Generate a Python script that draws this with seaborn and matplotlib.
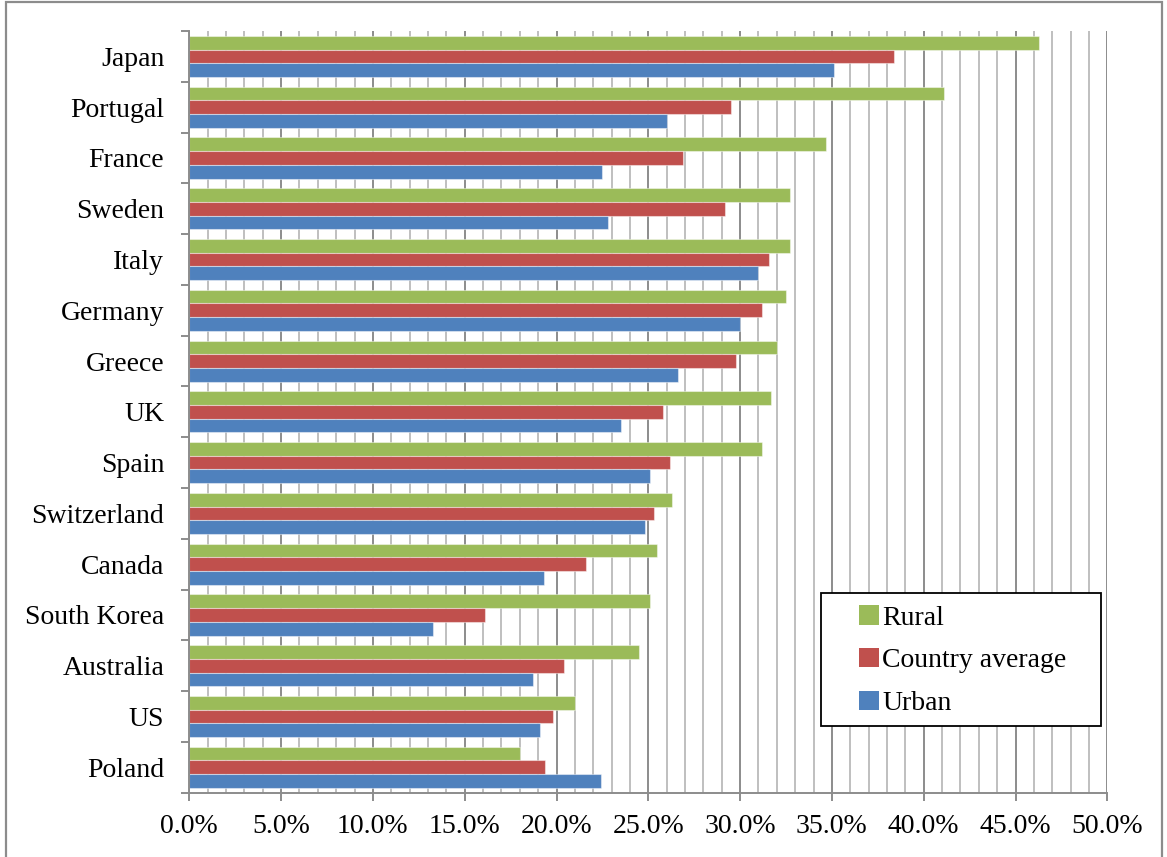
import matplotlib
matplotlib.use("Agg")
import matplotlib.pyplot as plt
from matplotlib.patches import Rectangle, Patch
from matplotlib.ticker import MultipleLocator, FixedLocator, PercentFormatter
import numpy as np
import pandas as pd
import seaborn as sns

countries = ["Japan", "Portugal", "France", "Sweden", "Italy", "Germany", "Greece",
             "UK", "Spain", "Switzerland", "Canada", "South Korea", "Australia",
             "US", "Poland"]
rural = [46.3, 41.1, 34.7, 32.7, 32.7, 32.5, 32.0, 31.7, 31.2, 26.3, 25.5, 25.1,
         24.5, 21.0, 18.0]
country_average = [38.4, 29.5, 26.9, 29.2, 31.6, 31.2, 29.8, 25.8, 26.2, 25.3,
                   21.6, 16.1, 20.4, 19.8, 19.4]
urban = [35.1, 26.0, 22.5, 22.8, 31.0, 30.0, 26.6, 23.5, 25.1, 24.8, 19.3, 13.3,
         18.7, 19.1, 22.4]
series_names = ["Rural", "Country average", "Urban"]
series_colors = ["#9BBB59", "#C0504D", "#4F81BD"]
x_ticks = [0, 5, 10, 15, 20, 25, 30, 35, 40, 45, 50]

df = pd.DataFrame({
    "country": countries * 3,
    "series": sum([[name] * len(countries) for name in series_names], []),
    "value": rural + country_average + urban,
})

sns.set_theme(style="white")
plt.rcParams["font.family"] = ["Liberation Serif", "DejaVu Serif"]
plt.rcParams["font.size"] = 20
plt.rcParams["text.color"] = "black"

W, H = 1167, 857
x0, x1, y0, y1 = 189.3, 1107.3, 31.0, 792.7

fig = plt.figure(figsize=(W / 100, H / 100), dpi=100)
ax = fig.add_axes([x0 / W, 1 - y1 / H, (x1 - x0) / W, (y1 - y0) / H])

sns.barplot(data=df, x="value", y="country", hue="series", order=countries,
            hue_order=series_names, palette=series_colors, orient="h",
            width=0.81, linewidth=0.8, edgecolor="#FFFFFF", saturation=1,
            legend=False, ax=ax)
for bar in ax.patches:
    bar.set_edgecolor((1, 1, 1, 0.45))

grid_minor = "#BFBFBF"
grid_major = "#8C8C8C"
ax.set_xlim(0, 50)
ax.set_ylim(len(countries) - 0.5, -0.5)
ax.xaxis.set_major_locator(FixedLocator(x_ticks))
ax.xaxis.set_minor_locator(MultipleLocator(1))
ax.xaxis.set_major_formatter(PercentFormatter(decimals=1))
ax.grid(axis="x", which="minor", color=grid_minor, linewidth=1.4)
ax.grid(axis="x", which="major", color=grid_major, linewidth=1.4)
ax.set_axisbelow(True)

ax.yaxis.set_minor_locator(FixedLocator(np.arange(-0.5, len(countries), 1.0)))
ax.tick_params(axis="y", which="major", length=0, pad=18, labelsize=20,
               labelcolor="black")
ax.tick_params(axis="y", which="minor", left=True, length=6, width=1.4,
               color=grid_major, direction="out")
ax.tick_params(axis="x", which="major", bottom=True, length=6, width=1.4,
               color=grid_major, direction="out", pad=9, labelsize=20,
               labelcolor="black")
ax.tick_params(axis="x", which="minor", length=0)

for side in ["top", "right"]:
    ax.spines[side].set_visible(False)
for side in ["left", "bottom"]:
    ax.spines[side].set_color(grid_major)
    ax.spines[side].set_linewidth(1.4)

ax.set_xlabel("")
ax.set_ylabel("")

# legend box (drawn as a separate frame) and its entries
def to_axes(px, py):
    return (px - x0) / (x1 - x0), (y1 - py) / (y1 - y0)

bx0, by0 = to_axes(821, 726)
bx1, by1 = to_axes(1101, 593)
ax.add_patch(Rectangle((bx0, by0), bx1 - bx0, by1 - by0, transform=ax.transAxes,
                       facecolor="white", edgecolor="black", linewidth=1.3,
                       zorder=5))

handles = [Patch(facecolor=c, edgecolor="none", label=n)
           for n, c in zip(series_names, series_colors)]
lx, ly = to_axes(851, 597)
leg = ax.legend(handles=handles, loc="upper left", bbox_to_anchor=(lx, ly),
                frameon=False, handlelength=0.7, handleheight=0.7,
                handletextpad=0.12, labelspacing=0.62, borderpad=0.3,
                borderaxespad=0, fontsize=20, labelcolor="black")
leg.set_zorder(6)

# outer chart border
fig.patches.append(Rectangle((6 / W, -0.05), 1156 / W, 1.05 - 2 / H,
                             transform=fig.transFigure, fill=False,
                             edgecolor="#8C8C8C", linewidth=1.6))

fig.savefig("out.png", dpi=100)
